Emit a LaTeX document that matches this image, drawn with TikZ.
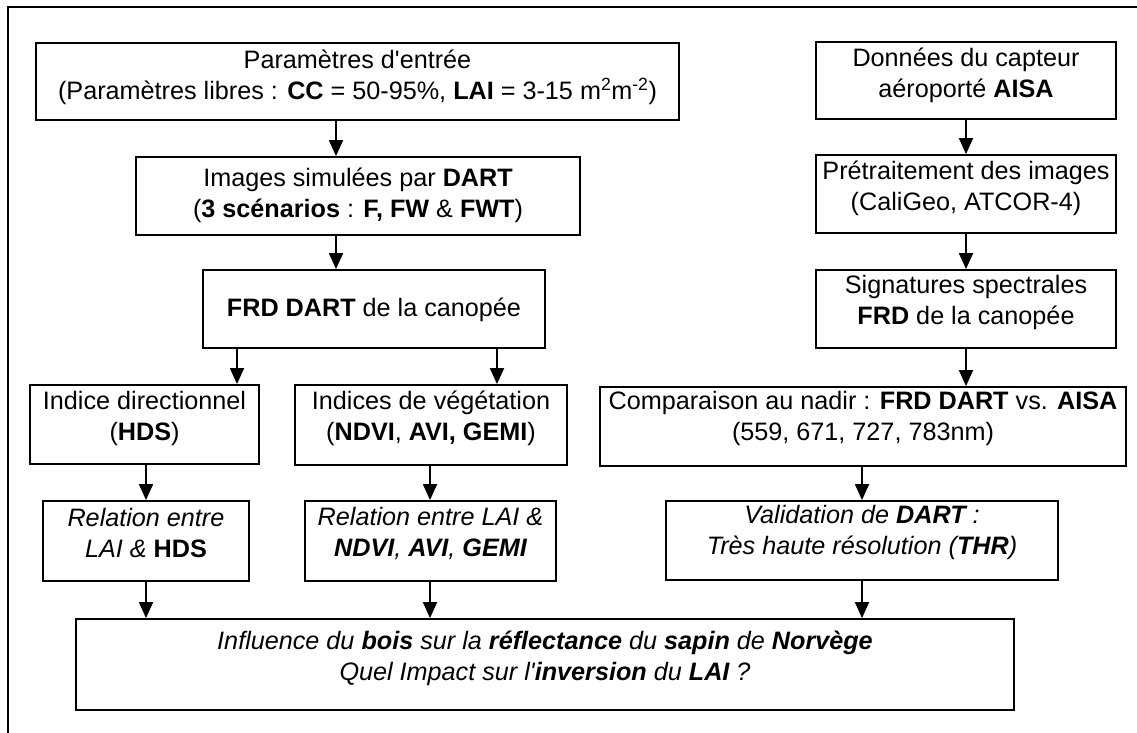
\documentclass[tikz,border=0pt]{standalone}
\usepackage{fontspec}
\setmainfont{Liberation Sans}[Ligatures=TeXOff]
\usetikzlibrary{arrows.meta}
\begin{document}
\begin{tikzpicture}[x=1pt,y=-1pt,
  box/.style={draw=black, line width=1.8pt, inner sep=0pt},
  lbl/.style={align=center, inner sep=0pt, font=\fontsize{25.2}{31}\selectfont},
  lbli/.style={align=center, inner sep=0pt, font=\fontsize{25.2}{31}\selectfont\itshape},
  arr/.style={line width=1.8pt, -{Triangle[width=14pt,length=16pt]}}]
\useasboundingbox (0,0) rectangle (1137,733);
\draw[line width=2.5pt] (8,733) -- (8,7) -- (1137,7);
% boxes
\node[box, minimum width=643pt, minimum height=77pt] (b1) at (357.5,81.5) {};
\node[box, minimum width=444pt, minimum height=78pt] (b2) at (358,196) {};
\node[box, minimum width=342pt, minimum height=78pt] (b3) at (374,309) {};
\node[box, minimum width=229pt, minimum height=79pt] (b4) at (144.5,424.5) {};
\node[box, minimum width=272pt, minimum height=80pt] (b5) at (431,425) {};
\node[box, minimum width=206pt, minimum height=80pt] (b6) at (146,541) {};
\node[box, minimum width=251pt, minimum height=80pt] (b7) at (430.5,541) {};
\node[box, minimum width=938pt, minimum height=91pt] (bf) at (545,664.5) {};
\node[box, minimum width=300pt, minimum height=77pt] (bA) at (966,80.5) {};
\node[box, minimum width=300pt, minimum height=78pt] (bP) at (966,194) {};
\node[box, minimum width=300pt, minimum height=78pt] (bS) at (966,309) {};
\node[box, minimum width=526pt, minimum height=79pt] (bC) at (863,426.5) {};
\node[box, minimum width=392pt, minimum height=79pt] (bV) at (862,540.5) {};
% texts
\node[lbl] (t1) at (357.5,77) {Paramètres d'entrée\\(Paramètres libres : \textbf{CC} = 50-95\%, \textbf{LAI} = 3-15 m\textsuperscript{2}m\textsuperscript{-2})};
\node[lbl] (t2) at (358,195) {Images simulées par \textbf{DART}\\(\textbf{3 scénarios} : \textbf{F, FW} \& \textbf{FWT})};
\node[lbl] (t3) at (374,310) {\textbf{FRD DART} de la canopée};
\node[lbl] (t4) at (144.5,418) {Indice directionnel\\(\textbf{HDS})};
\node[lbl] (t5) at (431,418) {Indices de végétation\\(\textbf{NDVI}, \textbf{AVI, GEMI})};
\node[lbli] (t6) at (146,533) {Relation entre\\LAI \& \textbf{\upshape HDS}};
\node[lbli] (t7) at (430.5,533) {Relation entre LAI \&\\\textbf{NDVI}, \textbf{AVI}, \textbf{GEMI}};
\node[lbli] (tf) at (545,658) {Influence du \textbf{bois} sur la \textbf{réflectance} du \textbf{sapin} de \textbf{Norvège}\\Quel Impact sur l'\textbf{inversion} du \textbf{LAI} ?};
\node[lbl] (tA) at (966,75) {Données du capteur\\aéroporté \textbf{AISA}};
\node[lbl] (tP) at (966,188) {Prétraitement des images\\(CaliGeo, ATCOR-4)};
\node[lbl] (tS) at (966,302.5) {Signatures spectrales\\\textbf{FRD} de la canopée};
\node[lbl] (tC) at (863,418) {Comparaison au nadir : \textbf{FRD DART} vs. \textbf{AISA}\\(559, 671, 727, 783nm)};
\node[lbli] (tV) at (862,532) {Validation de \textbf{DART} :\\Très haute résolution (\textbf{THR})};
% arrow columns
\coordinate (cA) at (336,0);
\coordinate (cB) at (237,0);
\coordinate (cC) at (497,0);
\coordinate (cD) at (146,0);
\coordinate (cE) at (430,0);
\coordinate (cF) at (966,0);
\coordinate (cG) at (862,0);
% arrows
\draw[arr] (b1.south -| cA) -- (b2.north -| cA);
\draw[arr] (b2.south -| cA) -- (b3.north -| cA);
\draw[arr] (b3.south -| cB) -- (b4.north -| cB);
\draw[arr] (b3.south -| cC) -- (b5.north -| cC);
\draw[arr] (b4.south -| cD) -- (b6.north -| cD);
\draw[arr] (b5.south -| cE) -- (b7.north -| cE);
\draw[arr] (b6.south -| cD) -- (bf.north -| cD);
\draw[arr] (b7.south -| cE) -- (bf.north -| cE);
\draw[arr] (bA.south -| cF) -- (bP.north -| cF);
\draw[arr] (bP.south -| cF) -- (bS.north -| cF);
\draw[arr] (bS.south -| cF) -- (bC.north -| cF);
\draw[arr] (bC.south -| cG) -- (bV.north -| cG);
\draw[arr] (bV.south -| cG) -- (bf.north -| cG);
\end{tikzpicture}
\end{document}
